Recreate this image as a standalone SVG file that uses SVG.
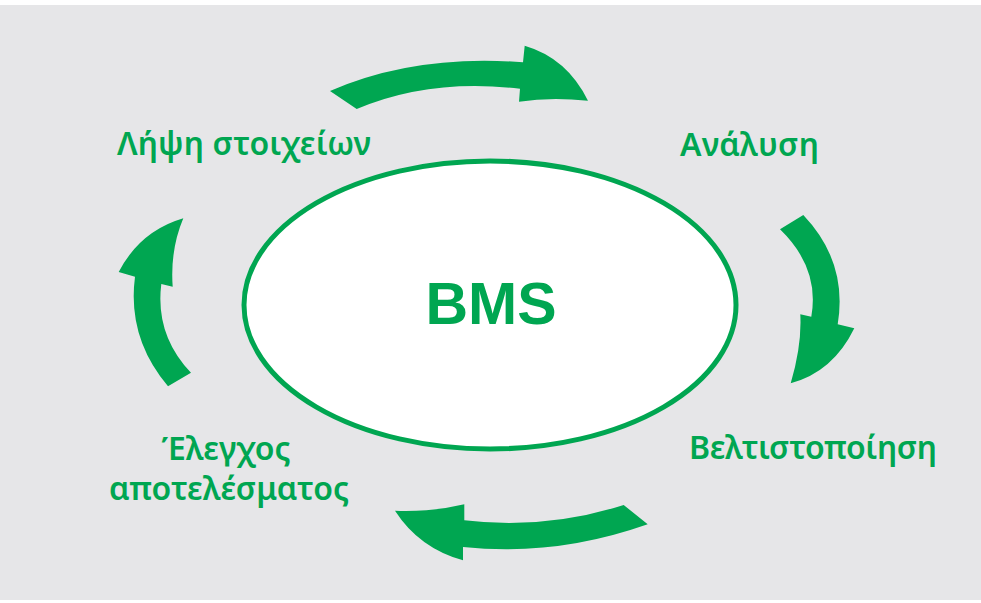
<svg xmlns="http://www.w3.org/2000/svg" width="981" height="603" viewBox="0 0 981 603">
<style>
.arrow{fill:#00a651;stroke:none}
.label{font-family:"Noto Sans","Open Sans","Liberation Sans",sans-serif;font-weight:600;font-size:32px;fill:#00a651;text-anchor:middle}
.title{font-family:"Liberation Sans",Arial,sans-serif;font-weight:700;font-size:59px;fill:#00a651;text-anchor:middle}
</style>
<rect x="0" y="0" width="981" height="603" fill="#ffffff"/>
<rect x="0" y="5" width="981" height="595" fill="#e6e6e8"/>
<g id="connectors">
<path class="arrow" d="M330 91Q415 54 523 62.300L524.700 45.700Q567 58 588 100.700Q550 97 519 101.700L520 88.700Q430 78 356.700 109Z"/>
<path class="arrow" d="M803.300 215Q848 262 837.700 324.300L854.300 328.300Q833 372 790.700 383.300Q802 345 800.300 314.300L811.300 316.700Q820 268 780 229.300Z"/>
<path class="arrow" d="M647.700 524.300Q555 557 463 547L463 560.300Q419 548 395 510.700Q433 512 464.300 504.300L464.300 520.300Q545 530 623.700 505Z"/>
<path class="arrow" d="M168 386.300Q127 338 135 276.700L118.700 272Q140 231 183.300 218.300Q170 250 172.700 286.700L161.300 284Q155 335 191 372.700Z"/>
</g>
<g id="node-bms">
<ellipse cx="490" cy="305" rx="246" ry="144" fill="#ffffff" stroke="#00a651" stroke-width="5"/>
<text class="title" x="491" y="324">BMS</text>
</g>
<g id="node-lipsi"><text class="label" x="244" y="155" textLength="254">Λήψη στοιχείων</text></g>
<g id="node-analysi"><text class="label" x="749.500" y="156" textLength="139">Ανάλυση</text></g>
<g id="node-veltistopoiisi"><text class="label" x="813" y="459" textLength="248">Βελτιστοποίηση</text></g>
<g id="node-elegchos"><text class="label" x="226" y="460" textLength="129">Έλεγχος</text><text class="label" x="229" y="500" textLength="240">αποτελέσματος</text></g>
</svg>
